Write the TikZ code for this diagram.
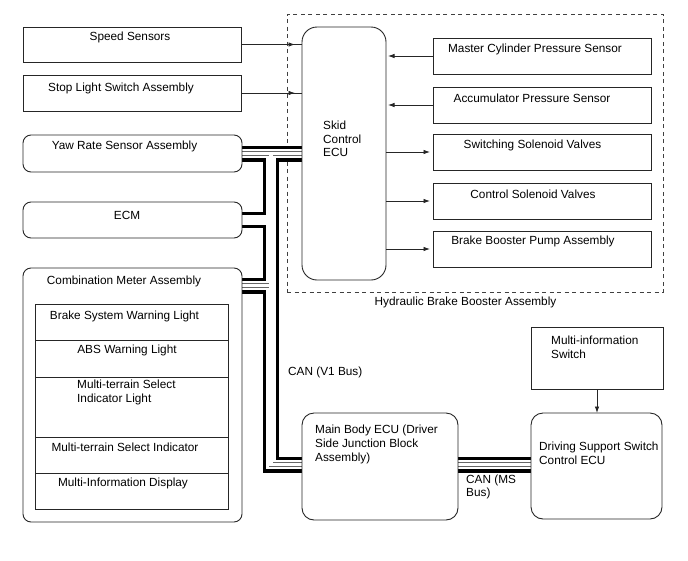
\documentclass[tikz,border=0pt]{standalone}
\usepackage{fontspec}
\setmainfont{Liberation Sans}
\usetikzlibrary{arrows.meta,decorations.markings}
\pgfdeclarelayer{back}
\pgfdeclarelayer{bus}
\pgfsetlayers{back,bus,main}
\newcommand\mybuslines[1]{%
  \draw[#1] (yaw.east) -- (skid.west |- yaw.east);
  \draw[#1] (j1) -- (j4) -- (mb.west |- j4);
  \draw[#1] (ecm.east) -- (j1 |- ecm.east);
  \draw[#1] (cm.east |- j3) -- (j3);
  \draw[#1] (mb.east |- j4) -- (ds.west |- j4);
}
\begin{document}
\begin{tikzpicture}[x=1pt,y=-1pt,
  box/.style={draw=black!85, line width=0.9pt, inner sep=0pt, outer sep=0pt},
  rbox/.style={box, rounded corners=#1},
  grp/.style={draw=black!75, line width=0.8pt, dash pattern=on 4pt off 3.5pt, inner sep=0pt, outer sep=0pt},
  txt/.style={inner sep=0pt, font=\fontsize{11.8}{13.6}\selectfont, align=center},
  ltxt/.style={txt, align=left, anchor=west},
  conn/.style={line width=0.8pt, draw=black!85},
  arr/.style={conn, -{Latex[length=6.5pt,width=4.5pt]}},
  midarr/.style={conn, postaction={decorate}, decoration={markings, mark=at position #1 with {\arrow{Latex[length=6.5pt,width=4.5pt]}}}},
  busbase/.style={line join=miter, line cap=butt}
]
\useasboundingbox (0,0) rectangle (688,560);
% group (behind the bus)
\begin{pgfonlayer}{back}
\node[grp, minimum width=376pt, minimum height=278pt] (hb) at (475,153) {};
\end{pgfonlayer}
\node[txt] (hb-t) at (465.5,302) {Hydraulic Brake Booster Assembly};

% left boxes
\node[box, minimum width=218pt, minimum height=35pt] (ss) at (132,44.5) {};
\node[box, minimum width=218pt, minimum height=36pt] (sl) at (132,93) {};
\node[rbox=8pt, minimum width=219pt, minimum height=37pt] (yaw) at (132.5,153.5) {};
\node[rbox=8pt, minimum width=219pt, minimum height=36pt] (ecm) at (132.5,220) {};
\node[rbox=8pt, minimum width=219pt, minimum height=254pt] (cm) at (132.5,395) {};
\node[box, minimum width=193pt, minimum height=36pt] (cm1) at (131.5,322) {};
\node[box, minimum width=193pt, minimum height=37pt] (cm2) at (131.5,358.5) {};
\node[box, minimum width=193pt, minimum height=60pt] (cm3) at (131.5,407) {};
\node[box, minimum width=193pt, minimum height=36pt] (cm4) at (131.5,455) {};
\node[box, minimum width=193pt, minimum height=36pt] (cm5) at (131.5,491) {};

% skid ecu and right boxes
\node[rbox=15pt, minimum width=84pt, minimum height=253pt] (skid) at (344,153.5) {};
\node[box, minimum width=218pt, minimum height=36pt] (mc) at (542,56) {};
\node[box, minimum width=218pt, minimum height=36pt] (ap) at (542,105) {};
\node[box, minimum width=218pt, minimum height=36pt] (sw) at (542,152) {};
\node[box, minimum width=218pt, minimum height=36pt] (cv) at (542,201) {};
\node[box, minimum width=218pt, minimum height=36pt] (bb) at (542,249) {};

% bottom boxes
\node[box, minimum width=132pt, minimum height=62pt] (mis) at (597,358) {};
\node[rbox=12pt, minimum width=131pt, minimum height=106pt] (ds) at (596.5,466) {};
\node[rbox=12pt, minimum width=156pt, minimum height=107pt] (mb) at (380,466.5) {};

% bus junctions
\coordinate (j1) at (271,153.5);
\coordinate (j3) at (271,285.5);
\coordinate (j4) at (271,464.5);

% buses (layered, behind the boxes)
\begin{pgfonlayer}{bus}
\mybuslines{busbase, line width=16pt, black}
\mybuslines{busbase, line width=9.6pt, white}
\mybuslines{busbase, line width=4.4pt, black!60}
\mybuslines{busbase, line width=3.2pt, white}
\end{pgfonlayer}

% arrows
\draw[midarr=54pt] (ss.east) -- (skid.west |- ss.east);
\draw[midarr=54pt] (sl.east) -- (skid.west |- sl.east);
\draw[arr, shorten >=2pt] (mc.west) -- (skid.east |- mc.west);
\draw[arr, shorten >=2pt] (ap.west) -- (skid.east |- ap.west);
\draw[arr, shorten >=3pt] (skid.east |- sw.west) -- (sw.west);
\draw[arr, shorten >=3pt] (skid.east |- cv.west) -- (cv.west);
\draw[arr, shorten >=3pt] (skid.east |- bb.west) -- (bb.west);
\draw[arr] (mis.south) -- (mis.south |- ds.north);

% texts
\node[txt] (ss-t) at (130,37) {Speed Sensors};
\node[txt] (sl-t) at (121,88) {Stop Light Switch Assembly};
\node[txt] (yaw-t) at (124.5,146) {Yaw Rate Sensor Assembly};
\node[txt] (ecm-t) at (127,215) {ECM};
\node[txt] (cm-t) at (124,281) {Combination Meter Assembly};
\node[txt] (cm1-t) at (124.5,316) {Brake System Warning Light};
\node[txt] (cm2-t) at (127,350) {ABS Warning Light};
\node[ltxt] (cm3-t) at (77,392.5) {Multi-terrain Select\\Indicator Light};
\node[txt] (cm4-t) at (125,447) {Multi-terrain Select Indicator};
\node[txt] (cm5-t) at (123,483) {Multi-Information Display};
\node[ltxt] (skid-t) at (323,139) {Skid\\Control\\ECU};
\node[txt] (mc-t) at (535,49) {Master Cylinder Pressure Sensor};
\node[txt] (ap-t) at (532,98) {Accumulator Pressure Sensor};
\node[txt] (sw-t) at (532.5,145) {Switching Solenoid Valves};
\node[txt] (cv-t) at (533,194) {Control Solenoid Valves};
\node[txt] (bb-t) at (533,241) {Brake Booster Pump Assembly};
\node[ltxt] (mis-t) at (551,347) {Multi-information\\Switch};
\node[ltxt] (ds-t) at (539,453.5) {Driving Support Switch\\Control ECU};
\node[ltxt] (mb-t) at (315,444.5) {Main Body ECU (Driver\\Side Junction Block\\Assembly)};
\node[ltxt] (v1-t) at (288,372) {CAN (V1 Bus)};
\node[ltxt] (ms-t) at (466,487) {CAN (MS\\Bus)};
\end{tikzpicture}
\end{document}
